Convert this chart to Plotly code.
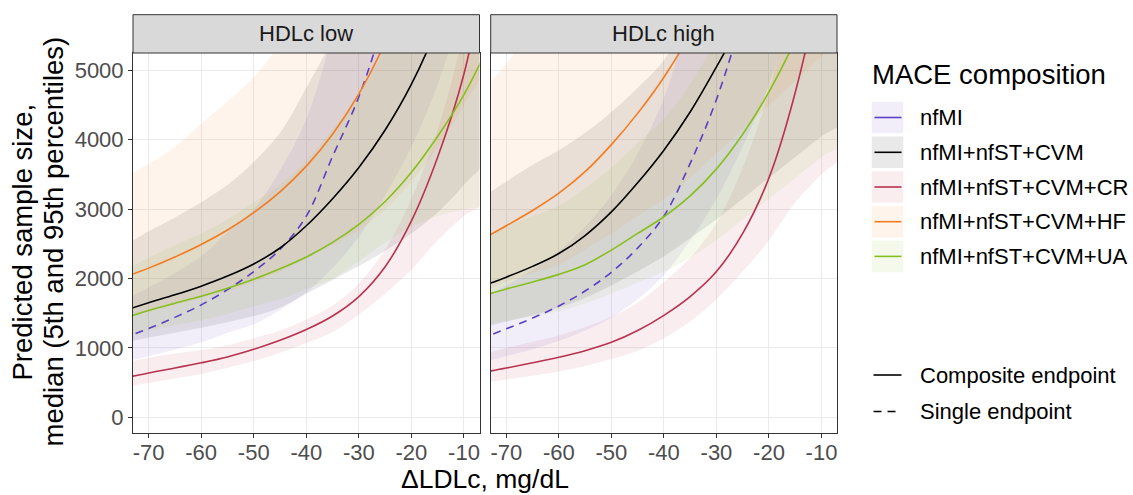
import plotly.graph_objects as go

# ---------------- data ----------------
x_vals = [-75, -70, -65, -60, -55, -50, -45, -40, -35, -30, -25, -20, -15, -10, -5]
series_names = ["nfMI", "nfMI+nfST+CVM", "nfMI+nfST+CVM+CR", "nfMI+nfST+CVM+HF", "nfMI+nfST+CVM+UA"]
panel_names = ["HDLc low", "HDLc high"]
x_tick_vals = [-70, -60, -50, -40, -30, -20, -10]
x_tick_text = ["-70", "-60", "-50", "-40", "-30", "-20", "-10"]
y_tick_vals = [0, 1000, 2000, 3000, 4000, 5000]
y_tick_text = ["0", "1000", "2000", "3000", "4000", "5000"]
linetype_names = ["Composite endpoint", "Single endpoint"]

# HDLc low
low_nfMI_med = [1140, 1280, 1440, 1620, 1840, 2100, 2420, 2900, 3760, 4620, 5800, 7400, 9500, 12500, 17000]
low_nfMI_lo = [790, 880, 975, 1080, 1220, 1340, 1550, 1800, 2150, 2600, 3200, 3900, 4800, 6000, 7800]
low_nfMI_hi = [1670, 1870, 2080, 2320, 2670, 3000, 3560, 4300, 5500, 6800, 8700, 11000, 14000, 18000, 25000]

low_cvm_med = [1530, 1650, 1765, 1890, 2035, 2210, 2440, 2760, 3150, 3600, 4140, 4800, 5650, 6800, 8400]
low_cvm_lo = [1070, 1150, 1220, 1290, 1370, 1460, 1580, 1780, 1980, 2180, 2400, 2650, 2950, 3350, 3850]
low_cvm_hi = [2450, 2680, 2880, 3100, 3350, 3680, 4100, 4750, 5450, 6300, 7300, 8600, 10300, 12700, 16000]

low_cr_med = [560, 640, 710, 785, 870, 980, 1110, 1265, 1460, 1740, 2170, 2830, 3750, 4950, 6800]
low_cr_lo = [430, 495, 560, 625, 710, 810, 930, 1070, 1230, 1480, 1780, 2125, 2550, 2900, 3200]
low_cr_hi = [780, 860, 920, 970, 1040, 1140, 1250, 1410, 1610, 1930, 2420, 3150, 4150, 5600, 8000]

low_hf_med = [2010, 2150, 2310, 2490, 2700, 2950, 3250, 3620, 4080, 4660, 5400, 6350, 7550, 9100, 11000]
low_hf_lo = [1450, 1530, 1620, 1720, 1820, 1950, 2100, 2280, 2480, 2700, 3000, 3400, 3900, 4500, 5300]
low_hf_hi = [3450, 3650, 3900, 4230, 4550, 4900, 5400, 6200, 7000, 8000, 9300, 11000, 13000, 16000, 20000]

low_ua_med = [1420, 1540, 1645, 1745, 1860, 1990, 2140, 2310, 2520, 2780, 3110, 3530, 4050, 4650, 5400]
low_ua_lo = [1150, 1250, 1330, 1400, 1490, 1600, 1700, 1850, 2000, 2250, 2520, 2750, 2900, 3000, 3100]
low_ua_hi = [2100, 2300, 2480, 2650, 2850, 3100, 3350, 3700, 4150, 4650, 5300, 6100, 7100, 8300, 9800]

# HDLc high
high_nfMI_med = [1130, 1275, 1430, 1605, 1820, 2090, 2440, 2900, 3660, 4580, 5800, 7400, 9500, 12500, 17000]
high_nfMI_lo = [780, 880, 980, 1100, 1250, 1440, 1700, 2050, 2550, 3150, 3900, 4800, 6000, 7500, 9500]
high_nfMI_hi = [1700, 1900, 2130, 2400, 2750, 3200, 3800, 4600, 5900, 7500, 9700, 12500, 16000, 21000, 28000]

high_cvm_med = [1880, 2020, 2175, 2360, 2620, 2960, 3380, 3850, 4400, 5050, 5750, 6650, 7800, 9200, 11000]
high_cvm_lo = [1280, 1380, 1470, 1580, 1720, 1900, 2100, 2320, 2580, 2850, 3150, 3450, 3750, 4050, 4350]
high_cvm_hi = [3150, 3400, 3640, 3850, 4100, 4400, 4750, 5150, 5800, 6700, 7700, 9000, 10800, 13000, 16000]

high_cr_med = [640, 710, 785, 865, 960, 1080, 1250, 1470, 1740, 2100, 2650, 3450, 4680, 6400, 9000]
high_cr_lo = [490, 545, 600, 660, 740, 840, 960, 1140, 1380, 1700, 2100, 2550, 3100, 3500, 3900]
high_cr_hi = [900, 1000, 1090, 1180, 1300, 1450, 1650, 1950, 2300, 2800, 3600, 4700, 6300, 8600, 12000]

high_hf_med = [2550, 2760, 2980, 3230, 3540, 3930, 4380, 4900, 5530, 6300, 7250, 8400, 9800, 11500, 13500]
high_hf_lo = [1800, 1950, 2080, 2200, 2420, 2650, 2900, 3150, 3450, 3800, 4150, 4500, 4850, 5200, 5500]
high_hf_hi = [4650, 5100, 5550, 6000, 6600, 7300, 8100, 9000, 10200, 11700, 13500, 16000, 19000, 23000, 28000]

high_ua_med = [1740, 1850, 1950, 2060, 2200, 2410, 2650, 2890, 3190, 3580, 4080, 4690, 5440, 6400, 7600]
high_ua_lo = [1310, 1390, 1460, 1530, 1640, 1780, 1940, 2100, 2300, 2550, 2850, 3150, 3450, 3750, 4050]
high_ua_hi = [2600, 2750, 2900, 3050, 3300, 3600, 3950, 4300, 4800, 5450, 6200, 7100, 8300, 9900, 12000]

# ---------------- styles ----------------
colors = ["#5B3FC0", "#000000", "#B8314F", "#F47B20", "#86BF1C"]
DASH = "8px,6px"
dashes = [DASH, "solid", "solid", "solid", "solid"]
FILL_ALPHA = 0.085
FONT = "Liberation Sans, Arial, Helvetica, sans-serif"

def rgba(hex_color, a):
    h = hex_color.lstrip("#")
    r, g, b = int(h[0:2], 16), int(h[2:4], 16), int(h[4:6], 16)
    return f"rgba({r},{g},{b},{a})"

panels = [
    [(low_nfMI_med, low_nfMI_lo, low_nfMI_hi), (low_cvm_med, low_cvm_lo, low_cvm_hi),
     (low_cr_med, low_cr_lo, low_cr_hi), (low_hf_med, low_hf_lo, low_hf_hi),
     (low_ua_med, low_ua_lo, low_ua_hi)],
    [(high_nfMI_med, high_nfMI_lo, high_nfMI_hi), (high_cvm_med, high_cvm_lo, high_cvm_hi),
     (high_cr_med, high_cr_lo, high_cr_hi), (high_hf_med, high_hf_lo, high_hf_hi),
     (high_ua_med, high_ua_lo, high_ua_hi)],
]

fig = go.Figure()
axis_refs = [("x", "y"), ("x2", "y2")]

for p, data in enumerate(panels):
    xr, yr = axis_refs[p]
    # ribbons
    for s, (med, lo, hi) in enumerate(data):
        fig.add_trace(go.Scatter(
            x=x_vals + x_vals[::-1], y=hi + lo[::-1], xaxis=xr, yaxis=yr,
            mode="lines", line=dict(width=0, shape="spline", smoothing=1.0),
            fill="toself", fillcolor=rgba(colors[s], FILL_ALPHA),
            hoverinfo="skip", showlegend=False, name=series_names[s]))
    # lines
    for s, (med, lo, hi) in enumerate(data):
        fig.add_trace(go.Scatter(
            x=x_vals, y=med, xaxis=xr, yaxis=yr, mode="lines",
            line=dict(color=colors[s], width=1.6, dash=dashes[s], shape="spline", smoothing=1.0),
            showlegend=False, name=series_names[s]))

# ---------------- layout ----------------
W, H = 1133, 495
ML, MR, MT, MB = 133, 296, 53, 62
PW = W - ML - MR
PH = H - MT - MB
dom_left = [0.0, 346.5 / PW]
dom_right = [(490.7 - ML) / PW, 1.0]

def px_x(px):
    return (px - ML) / PW

def px_y(py):
    return (H - MB - py) / PH

TICK_SIZE = 22
common_x = dict(range=[-72.97, -7.05], tickvals=x_tick_vals, ticktext=x_tick_text,
                ticks="outside", ticklen=4, tickwidth=1, tickcolor="#333333",
                ticklabelstandoff=-4,
                showline=True, mirror=True, linecolor="#333333", linewidth=1,
                showgrid=True, gridcolor="#EBEBEB", gridwidth=1.3, zeroline=False,
                tickfont=dict(family=FONT, size=TICK_SIZE, color="#4D4D4D"), fixedrange=True)
common_y = dict(range=[-226, 5250], tickvals=y_tick_vals, ticktext=y_tick_text,
                showline=True, mirror=True, linecolor="#333333", linewidth=1,
                showgrid=True, gridcolor="#EBEBEB", gridwidth=1.3, zeroline=False,
                tickfont=dict(family=FONT, size=TICK_SIZE, color="#4D4D4D"), fixedrange=True)

fig.update_layout(
    width=W, height=H, margin=dict(l=ML, r=MR, t=MT, b=MB, pad=0),
    paper_bgcolor="white", plot_bgcolor="white", showlegend=False,
    font=dict(family=FONT),
    xaxis=dict(domain=dom_left, anchor="y", **common_x),
    xaxis2=dict(domain=dom_right, anchor="y2", **common_x),
    yaxis=dict(domain=[0, 1], anchor="x", ticks="outside", ticklen=4, tickwidth=1,
               tickcolor="#333333", **common_y),
    yaxis2=dict(domain=[0, 1], anchor="x2", ticks="", showticklabels=False, **common_y),
)

shapes = []
annotations = []

# strips
strip_top = px_y(14.7)
for p, dom in enumerate([dom_left, dom_right]):
    shapes.append(dict(type="rect", xref="paper", yref="paper", x0=dom[0], x1=dom[1],
                       y0=1.0, y1=strip_top, fillcolor="#D9D9D9",
                       line=dict(color="#333333", width=1), layer="above"))
    annotations.append(dict(text=panel_names[p], xref="paper", yref="paper",
                            x=(dom[0] + dom[1]) / 2, y=(1.0 + strip_top) / 2,
                            xanchor="center", yanchor="middle", showarrow=False,
                            font=dict(family=FONT, size=22, color="#1A1A1A")))

# axis titles
annotations.append(dict(text="Predicted sample size,", xref="paper", yref="paper",
                        x=px_x(22), y=px_y(241.5), textangle=-90, xanchor="center",
                        yanchor="middle", showarrow=False,
                        font=dict(family=FONT, size=27.5, color="black")))
annotations.append(dict(text="median (5th and 95th percentiles)", xref="paper", yref="paper",
                        x=px_x(53), y=px_y(241.5), textangle=-90, xanchor="center",
                        yanchor="middle", showarrow=False,
                        font=dict(family=FONT, size=27.5, color="black")))
annotations.append(dict(text="ΔLDLc, mg/dL", xref="paper", yref="paper",
                        x=px_x(484.5), y=px_y(478.5), xanchor="center", yanchor="middle",
                        showarrow=False, font=dict(family=FONT, size=26.5, color="black")))

# legend: MACE composition
annotations.append(dict(text="MACE composition", xref="paper", yref="paper",
                        x=px_x(870), y=px_y(75), xanchor="left", yanchor="middle",
                        showarrow=False, font=dict(family=FONT, size=27.5, color="black")))
row_centers = [117.5, 152.3, 187.0, 221.7, 256.4]
for s, cy in enumerate(row_centers):
    shapes.append(dict(type="rect", xref="paper", yref="paper",
                       x0=px_x(871.7), x1=px_x(903.3), y0=px_y(cy - 15.8), y1=px_y(cy + 15.8),
                       fillcolor=rgba(colors[s], FILL_ALPHA), line=dict(width=0)))
    shapes.append(dict(type="line", xref="paper", yref="paper",
                       x0=px_x(874.5), x1=px_x(901.5), y0=px_y(cy), y1=px_y(cy),
                       line=dict(color=colors[s], width=1.6)))
    annotations.append(dict(text=series_names[s], xref="paper", yref="paper",
                            x=px_x(918), y=px_y(cy), xanchor="left", yanchor="middle",
                            showarrow=False, font=dict(family=FONT, size=22, color="black")))

# legend: endpoint type
lt_centers = [375.0, 411.5]
lt_dash = ["solid", DASH]
for i, cy in enumerate(lt_centers):
    shapes.append(dict(type="line", xref="paper", yref="paper",
                       x0=px_x(873.5), x1=px_x(901.5), y0=px_y(cy), y1=px_y(cy),
                       line=dict(color="black", width=1.6, dash=lt_dash[i])))
    annotations.append(dict(text=linetype_names[i], xref="paper", yref="paper",
                            x=px_x(918), y=px_y(cy), xanchor="left", yanchor="middle",
                            showarrow=False, font=dict(family=FONT, size=22, color="black")))

fig.update_layout(shapes=shapes, annotations=annotations)
fig.write_html("out.html", config={"displayModeBar": False},
               post_script="document.body.style.margin='0';document.body.style.overflow='hidden';")
